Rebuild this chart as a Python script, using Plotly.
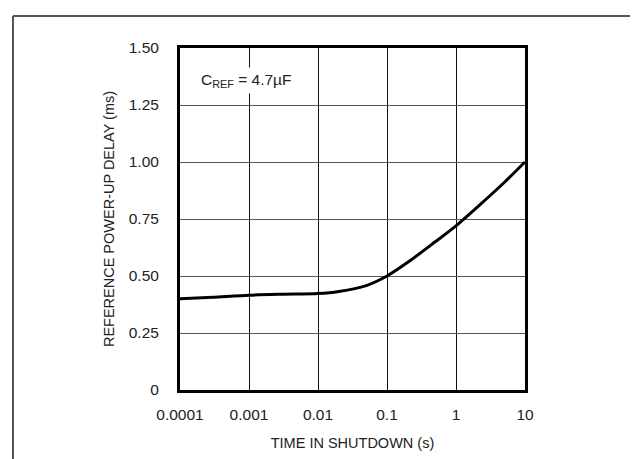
import plotly.graph_objects as go

# Data
time_s = [0.0001, 0.0003, 0.001, 0.003, 0.01, 0.02, 0.05, 0.1, 0.2, 0.5, 1, 2, 5, 10]
delay_ms = [0.40, 0.407, 0.416, 0.420, 0.423, 0.432, 0.458, 0.50, 0.56, 0.65, 0.72, 0.80, 0.91, 1.00]

x_tickvals = [0.0001, 0.001, 0.01, 0.1, 1, 10]
x_ticktext = ["0.0001", "0.001", "0.01", "0.1", "1", "10"]
y_tickvals = [0, 0.25, 0.5, 0.75, 1.0, 1.25, 1.5]
y_ticktext = ["0", "0.25", "0.50", "0.75", "1.00", "1.25", "1.50"]

FONT = "Liberation Sans, Arial, sans-serif"

W, H = 638, 459
L, R, T, B = 172, 638 - 517, 40, 459 - 382
pw, ph = W - L - R, H - T - B

def px_x(p):
    return (p - L) / pw

def px_y(p):
    return (H - B - p) / ph

fig = go.Figure()
fig.add_trace(go.Scatter(
    x=time_s, y=delay_ms, mode="lines",
    line=dict(color="black", width=3, shape="spline", smoothing=0.8),
    hoverinfo="skip", showlegend=False,
))

fig.update_layout(
    width=W, height=H,
    margin=dict(l=L, r=R, t=T, b=B, pad=0),
    paper_bgcolor="white", plot_bgcolor="white",
    font=dict(family=FONT, size=15.5, color="#222"),
    showlegend=False,
    xaxis=dict(
        type="log", range=[-4, 1],
        tickvals=x_tickvals, ticktext=x_ticktext,
        showgrid=True, gridcolor="#111", gridwidth=1,
        showline=True, linecolor="black", linewidth=3, mirror=True,
        ticks="", ticklabelstandoff=8,
        zeroline=False,
        title=dict(text="TIME IN SHUTDOWN (s)", standoff=17, font=dict(size=14.5)),
        tickfont=dict(size=15.5),
    ),
    yaxis=dict(
        range=[0, 1.5],
        tickvals=y_tickvals, ticktext=y_ticktext,
        showgrid=True, gridcolor="#555", gridwidth=1,
        showline=True, linecolor="black", linewidth=3, mirror=True,
        ticks="", ticklabelstandoff=15,
        zeroline=False,
        title=dict(text="REFERENCE POWER-UP DELAY (ms)", standoff=11, font=dict(size=14.5)),
        tickfont=dict(size=15.5),
    ),
    annotations=[dict(
        xref="paper", yref="paper",
        x=px_x(189), y=px_y(73), xanchor="left", yanchor="middle",
        text="C<sub>REF</sub> = 4.7µF", showarrow=False,
        bgcolor="white", font=dict(size=15.5, color="#222"),
        borderpad=3,
    )],
    shapes=[
        dict(type="line", xref="paper", yref="paper",
             x0=px_x(5), x1=px_x(645), y0=px_y(8), y1=px_y(8),
             line=dict(color="#555", width=2)),
        dict(type="line", xref="paper", yref="paper",
             x0=px_x(5), x1=px_x(5), y0=px_y(8), y1=px_y(470),
             line=dict(color="#555", width=2)),
    ],
)

fig.write_html("out.html")
